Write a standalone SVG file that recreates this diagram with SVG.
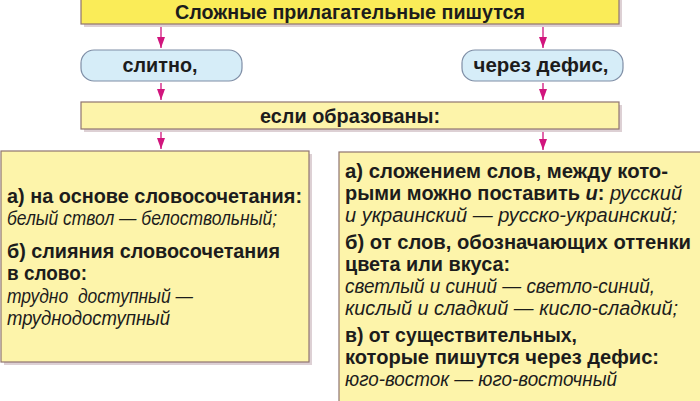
<svg xmlns="http://www.w3.org/2000/svg" width="700" height="401" viewBox="0 0 700 401">
<defs>
<marker id="ah" markerWidth="11" markerHeight="8" refX="11" refY="4" orient="auto" markerUnits="userSpaceOnUse" viewBox="0 0 11 8">
<path d="M0,0 L11,4 L0,8 Z" fill="#d1157d"/>
</marker>
</defs>
<style>
.box{stroke:#8f7470;stroke-width:1.2}
.top{fill:#faec58}
.pale{fill:#fdf4aa}
.pill{fill:#d6edf8;stroke:#7f8ea6;stroke-width:1.2}
.sh{fill:#ddd0d4}
.b{font-family:"Liberation Sans",Arial,sans-serif;font-weight:bold;font-size:20px;fill:#1c1c1c}
.i{font-family:"Liberation Sans",Arial,sans-serif;font-style:italic;font-weight:normal;font-size:20px;fill:#1c1c1c}
.bi{font-style:italic;font-weight:bold}
.it{font-style:italic;font-weight:normal}
.conn{stroke:#d1157d;stroke-width:1.3;fill:none}
</style>
<rect width="700" height="401" fill="#ffffff"/>
<g id="connectors">
<line class="conn" x1="161" y1="26" x2="161" y2="48" marker-end="url(#ah)"/>
<line class="conn" x1="543" y1="26" x2="543" y2="48" marker-end="url(#ah)"/>
<line class="conn" x1="161" y1="83" x2="161" y2="100" marker-end="url(#ah)"/>
<line class="conn" x1="543" y1="83" x2="543" y2="100" marker-end="url(#ah)"/>
<line class="conn" x1="161" y1="132" x2="161" y2="149" marker-end="url(#ah)"/>
<line class="conn" x1="543" y1="132" x2="543" y2="150" marker-end="url(#ah)"/>
</g>
<g id="title">
<rect class="sh" x="84" y="-2" width="538" height="29"/>
<rect class="box top" x="81" y="-3" width="538" height="27"/>
<text class="b" x="350" y="19" text-anchor="middle" textLength="350" lengthAdjust="spacingAndGlyphs">Сложные прилагательные пишутся</text>
</g>
<g id="together">
<rect class="pill" x="81" y="50" width="161" height="31" rx="13"/>
<text class="b" x="160" y="72" text-anchor="middle" textLength="75" lengthAdjust="spacingAndGlyphs">слитно,</text>
</g>
<g id="hyphen">
<rect class="pill" x="462" y="50" width="161" height="31" rx="13"/>
<text class="b" x="541" y="72" text-anchor="middle" textLength="135" lengthAdjust="spacingAndGlyphs">через дефис,</text>
</g>
<g id="condition">
<rect class="sh" x="84" y="105" width="538" height="27"/>
<rect class="box pale" x="81" y="102" width="538" height="27"/>
<text class="b" x="350" y="123" text-anchor="middle" textLength="180" lengthAdjust="spacingAndGlyphs">если образованы:</text>
</g>
<g id="left-box">
<rect class="sh" x="4" y="154" width="308" height="211"/>
<rect class="box pale" x="1" y="151" width="308" height="211"/>
<text class="b" x="7" y="203" textLength="295" lengthAdjust="spacingAndGlyphs">а) на основе словосочетания:</text>
<text class="i" x="7" y="225" textLength="270" lengthAdjust="spacingAndGlyphs">белый ствол — белоствольный;</text>
<text class="b" x="7" y="258" textLength="273" lengthAdjust="spacingAndGlyphs">б) слияния словосочетания</text>
<text class="b" x="7" y="280" textLength="80" lengthAdjust="spacingAndGlyphs">в слово:</text>
<text class="i" x="7" y="303" textLength="186" lengthAdjust="spacingAndGlyphs" xml:space="preserve">трудно  доступный —</text>
<text class="i" x="7" y="325" textLength="163" lengthAdjust="spacingAndGlyphs">труднодоступный</text>
</g>
<g id="right-box">
<rect class="box pale" x="339" y="152" width="370" height="260"/>
<text class="b" x="345" y="178" textLength="323" lengthAdjust="spacingAndGlyphs">а) сложением слов, между кото-</text>
<text class="b" x="345" y="200" textLength="337" lengthAdjust="spacingAndGlyphs">рыми можно поставить <tspan class="bi">и</tspan>: <tspan class="it">русский</tspan></text>
<text class="i" x="345" y="222" textLength="332" lengthAdjust="spacingAndGlyphs">и украинский — русско-украинский;</text>
<text class="b" x="345" y="249" textLength="346" lengthAdjust="spacingAndGlyphs">б) от слов, обозначающих оттенки</text>
<text class="b" x="345" y="271" textLength="165" lengthAdjust="spacingAndGlyphs">цвета или вкуса:</text>
<text class="i" x="345" y="293" textLength="310" lengthAdjust="spacingAndGlyphs">светлый и синий — светло-синий,</text>
<text class="i" x="345" y="315" textLength="333" lengthAdjust="spacingAndGlyphs">кислый и сладкий — кисло-сладкий;</text>
<text class="b" x="345" y="342" textLength="232" lengthAdjust="spacingAndGlyphs">в) от существительных,</text>
<text class="b" x="345" y="364" textLength="314" lengthAdjust="spacingAndGlyphs">которые пишутся через дефис:</text>
<text class="i" x="345" y="386" textLength="272" lengthAdjust="spacingAndGlyphs">юго-восток — юго-восточный</text>
</g>
</svg>
